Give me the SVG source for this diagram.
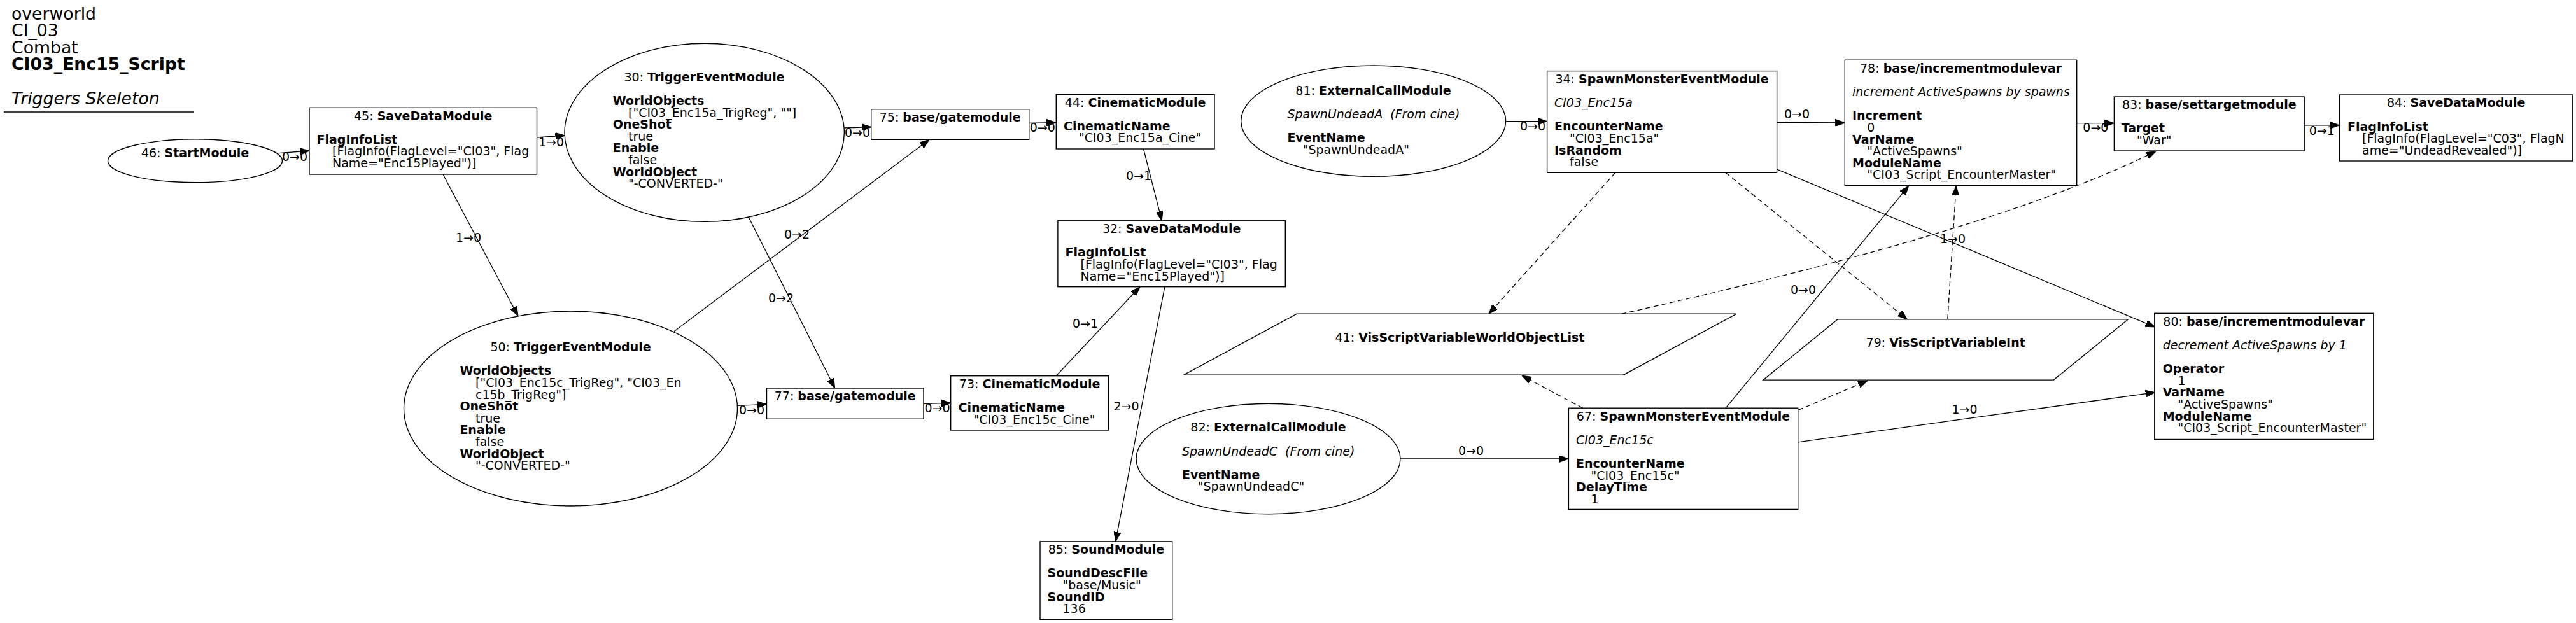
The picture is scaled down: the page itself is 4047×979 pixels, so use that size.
<svg xmlns="http://www.w3.org/2000/svg" width="4047" height="979" viewBox="0 0 4047 979">
<style>
text { font-family: "DejaVu Sans", "Liberation Sans", sans-serif; font-size: 19px; fill: #000; }
.hd { font-size: 26.7px; }
.b { font-weight: bold; }
.i { font-style: italic; }
.m { text-anchor: middle; }
.nd { fill: #fff; stroke: #000; stroke-width: 1.4; }
.e { fill: none; stroke: #000; stroke-width: 1.3; marker-end: url(#ah); }
.d { stroke-dasharray: 8,5; }
</style>
<defs>
<marker id="ah" markerUnits="userSpaceOnUse" markerWidth="15" markerHeight="11" viewBox="0 0 15 11" refX="15" refY="5.5" orient="auto">
<path d="M0,0 L15,5.5 L0,11 z" fill="#000" stroke="#000" stroke-width="1"/>
</marker>
</defs>
<rect x="0" y="0" width="4047" height="979" fill="#fff"/>

<g id="header">
<text class="hd" x="18" y="30.8">overworld</text>
<text class="hd" x="18" y="57.4">CI_03</text>
<text class="hd" x="18" y="83.6">Combat</text>
<text class="hd b" x="18" y="110.3">CI03_Enc15_Script</text>
<text class="hd i" x="18" y="164.2">Triggers Skeleton</text>
<line x1="6" y1="176" x2="304" y2="176" stroke="#000" stroke-width="1.4"/>
</g>

<g id="connectors">
<path class="e" d="M438,240.7 L486,237"/>
<text x="443" y="253">0→0</text>
<path class="e" d="M843.5,216 L887.5,213"/>
<text x="846" y="230">1→0</text>
<path class="e" d="M696,274 L814,496.7"/>
<text x="716" y="380">1→0</text>
<path class="e" d="M1326.5,201 L1368.7,199.5"/>
<text x="1327" y="215">0→0</text>
<path class="e" d="M1176.4,341.7 L1311.7,610"/>
<text x="1207" y="475">0→2</text>
<path class="e" d="M1059,520.7 L1460,219.3"/>
<text x="1232" y="375">0→2</text>
<path class="e" d="M1158.6,637.3 L1204.5,635.3"/>
<text x="1161" y="650.7">0→0</text>
<path class="e" d="M1616.7,193.3 L1659.3,192.7"/>
<text x="1617.7" y="206.7">0→0</text>
<path class="e" d="M1451,634.3 L1493.7,633.3"/>
<text x="1452.5" y="648.3">0→0</text>
<path class="e" d="M1796.5,234 L1825.3,346.8"/>
<text x="1769" y="283">0→1</text>
<path class="e" d="M1659.8,590 L1790.9,450.7"/>
<text x="1685" y="515">0→1</text>
<path class="e" d="M1829.9,450.7 L1752.6,850.9"/>
<text x="1749.5" y="645">2→0</text>
<path class="e" d="M2365.6,190.7 L2430.6,190.7"/>
<text x="2388" y="205">0→0</text>
<path class="e" d="M2791.6,192.5 L2898.3,193"/>
<text x="2803" y="186">0→0</text>
<path class="e d" d="M2537.8,271.3 L2338.8,493.3"/>
<path class="e d" d="M2711,271.3 L2996.4,501.8"/>
<path class="e" d="M2791.6,266 L3385.7,514"/>
<text x="3048" y="382">1→0</text>
<path class="e" d="M3262.7,193.6 L3321.4,193.6"/>
<text x="3272.3" y="207">0→0</text>
<path class="e" d="M3620.2,196.8 L3675.4,196.8"/>
<text x="3627.8" y="211.7">0→1</text>
<path class="e d" d="M2547.3,493.3 C2760,445 3150,355 3387,237.8"/>
<path class="e d" d="M3059.8,501.8 L3073.2,292.1"/>
<path class="e" d="M2200,721 L2464.4,721"/>
<text x="2291" y="715.2">0→0</text>
<path class="e d" d="M2486.7,641.2 L2391,590.2"/>
<path class="e" d="M2711.2,641.2 L2998.7,292.1"/>
<text x="2813" y="461.6">0→0</text>
<path class="e d" d="M2824.7,644.6 L2933.9,598.2"/>
<path class="e" d="M2824.7,694.8 L3385.7,616.6"/>
<text x="3066.5" y="650">1→0</text>
</g>

<g id="n46">
<ellipse class="nd" cx="306.5" cy="252.8" rx="137" ry="34"/>
<text class="m" x="306.5" y="247">46: <tspan class="b">StartModule</tspan></text>
</g>

<g id="n45">
<rect class="nd" x="486" y="169.3" width="357.5" height="104.7"/>
<text class="m" x="664.7" y="188.6">45: <tspan class="b">SaveDataModule</tspan></text>
<text class="b" x="497.5" y="225.8">FlagInfoList</text>
<text x="522" y="244.4">[FlagInfo(FlagLevel="CI03", Flag</text>
<text x="522" y="263">Name="Enc15Played")]</text>
</g>

<g id="n30">
<ellipse class="nd" cx="1106.7" cy="208.3" rx="219.7" ry="140"/>
<text class="m" x="1106.5" y="128.3">30: <tspan class="b">TriggerEventModule</tspan></text>
<text class="b" x="962.8" y="165">WorldObjects</text>
<text x="987" y="183.6">["CI03_Enc15a_TrigReg", ""]</text>
<text class="b" x="962.8" y="202.2">OneShot</text>
<text x="987" y="220.8">true</text>
<text class="b" x="962.8" y="239.4">Enable</text>
<text x="987" y="258">false</text>
<text class="b" x="962.8" y="276.6">WorldObject</text>
<text x="987" y="295.2">"-CONVERTED-"</text>
</g>

<g id="n75">
<rect class="nd" x="1368.7" y="171.7" width="248" height="47.6"/>
<text class="m" x="1492.7" y="191">75: <tspan class="b">base/gatemodule</tspan></text>
</g>

<g id="n44">
<rect class="nd" x="1659.3" y="148.3" width="248.7" height="85.7"/>
<text class="m" x="1783.6" y="167.6">44: <tspan class="b">CinematicModule</tspan></text>
<text class="b" x="1671" y="204.8">CinematicName</text>
<text x="1695" y="223.4">"CI03_Enc15a_Cine"</text>
</g>

<g id="n32">
<rect class="nd" x="1661.9" y="346.8" width="357.4" height="103.9"/>
<text class="m" x="1840.6" y="366.1">32: <tspan class="b">SaveDataModule</tspan></text>
<text class="b" x="1673.5" y="403.3">FlagInfoList</text>
<text x="1697.5" y="421.9">[FlagInfo(FlagLevel="CI03", Flag</text>
<text x="1697.5" y="440.5">Name="Enc15Played")]</text>
</g>

<g id="n50">
<ellipse class="nd" cx="896.5" cy="642" rx="262" ry="153"/>
<text class="m" x="896.5" y="551.7">50: <tspan class="b">TriggerEventModule</tspan></text>
<text class="b" x="722.4" y="589.3">WorldObjects</text>
<text x="747" y="607.9">["CI03_Enc15c_TrigReg", "CI03_En</text>
<text x="747" y="626.5">c15b_TrigReg"]</text>
<text class="b" x="722.4" y="645.1">OneShot</text>
<text x="747" y="663.7">true</text>
<text class="b" x="722.4" y="682.3">Enable</text>
<text x="747" y="700.9">false</text>
<text class="b" x="722.4" y="719.5">WorldObject</text>
<text x="747" y="738.1">"-CONVERTED-"</text>
</g>

<g id="n77">
<rect class="nd" x="1204.5" y="610" width="246.5" height="48.3"/>
<text class="m" x="1327.7" y="629.3">77: <tspan class="b">base/gatemodule</tspan></text>
</g>

<g id="n73">
<rect class="nd" x="1493.7" y="590.7" width="247.9" height="85.3"/>
<text class="m" x="1617.6" y="610">73: <tspan class="b">CinematicModule</tspan></text>
<text class="b" x="1505.5" y="647.2">CinematicName</text>
<text x="1529.6" y="665.8">"CI03_Enc15c_Cine"</text>
</g>

<g id="n85">
<rect class="nd" x="1634" y="850.9" width="207.7" height="122.6"/>
<text class="m" x="1737.9" y="870.2">85: <tspan class="b">SoundModule</tspan></text>
<text class="b" x="1645.6" y="907.4">SoundDescFile</text>
<text x="1669.5" y="926">"base/Music"</text>
<text class="b" x="1645.6" y="944.6">SoundID</text>
<text x="1669.5" y="963.2">136</text>
</g>

<g id="n81">
<ellipse class="nd" cx="2157.7" cy="190.2" rx="208" ry="87.2"/>
<text class="m" x="2157.5" y="149">81: <tspan class="b">ExternalCallModule</tspan></text>
<text class="i" x="2022.4" y="186.2" xml:space="preserve">SpawnUndeadA  (From cine)</text>
<text class="b" x="2022.4" y="223.4">EventName</text>
<text x="2046.7" y="242">"SpawnUndeadA"</text>
</g>

<g id="n34">
<rect class="nd" x="2430.6" y="111.6" width="361" height="159.7"/>
<text class="m" x="2611.1" y="131">34: <tspan class="b">SpawnMonsterEventModule</tspan></text>
<text class="i" x="2442" y="168.2">CI03_Enc15a</text>
<text class="b" x="2442" y="205.4">EncounterName</text>
<text x="2466" y="224">"CI03_Enc15a"</text>
<text class="b" x="2442" y="242.6">IsRandom</text>
<text x="2466" y="261.2">false</text>
</g>

<g id="n78">
<rect class="nd" x="2898.3" y="94.3" width="364.4" height="197.4"/>
<text class="m" x="3080.5" y="114">78: <tspan class="b">base/incrementmodulevar</tspan></text>
<text class="i" x="2910" y="151.2">increment ActiveSpawns by spawns</text>
<text class="b" x="2910" y="188.4">Increment</text>
<text x="2933.3" y="207">0</text>
<text class="b" x="2910" y="225.6">VarName</text>
<text x="2933.3" y="244.2">"ActiveSpawns"</text>
<text class="b" x="2910" y="262.8">ModuleName</text>
<text x="2933.3" y="281.4">"CI03_Script_EncounterMaster"</text>
</g>

<g id="n83">
<rect class="nd" x="3321.4" y="152" width="298.8" height="85"/>
<text class="m" x="3470.8" y="171.3">83: <tspan class="b">base/settargetmodule</tspan></text>
<text class="b" x="3332.7" y="208">Target</text>
<text x="3357" y="226.6">"War"</text>
</g>

<g id="n84">
<rect class="nd" x="3675.4" y="149" width="366.4" height="104"/>
<text class="m" x="3858.6" y="168.3">84: <tspan class="b">SaveDataModule</tspan></text>
<text class="b" x="3688" y="205.5">FlagInfoList</text>
<text x="3711" y="224.1">[FlagInfo(FlagLevel="C03", FlagN</text>
<text x="3711" y="242.7">ame="UndeadRevealed")]</text>
</g>

<g id="n41">
<polygon class="nd" points="2037,493.3 2727.8,493.3 2550.5,589.2 1859.7,589.2"/>
<text class="m" x="2293.5" y="536.6">41: <tspan class="b">VisScriptVariableWorldObjectList</tspan></text>
</g>

<g id="n79">
<polygon class="nd" points="2887,501.8 3343.3,501.8 3226.3,597.1 2770,597.1"/>
<text class="m" x="3056.7" y="544.6">79: <tspan class="b">VisScriptVariableInt</tspan></text>
</g>

<g id="n82">
<ellipse class="nd" cx="1992.5" cy="721" rx="207.5" ry="86.7"/>
<text class="m" x="1992.5" y="678.3">82: <tspan class="b">ExternalCallModule</tspan></text>
<text class="i" x="1857" y="715.5" xml:space="preserve">SpawnUndeadC  (From cine)</text>
<text class="b" x="1857" y="752.8">EventName</text>
<text x="1881.7" y="771.4">"SpawnUndeadC"</text>
</g>

<g id="n67">
<rect class="nd" x="2464.4" y="641.2" width="360.3" height="159.2"/>
<text class="m" x="2644.5" y="660.6">67: <tspan class="b">SpawnMonsterEventModule</tspan></text>
<text class="i" x="2476" y="697.8">CI03_Enc15c</text>
<text class="b" x="2476" y="735">EncounterName</text>
<text x="2499.5" y="753.6">"CI03_Enc15c"</text>
<text class="b" x="2476" y="772.2">DelayTime</text>
<text x="2499.5" y="790.8">1</text>
</g>

<g id="n80">
<rect class="nd" x="3384.8" y="492.3" width="344" height="198.2"/>
<text class="m" x="3556.8" y="511.8">80: <tspan class="b">base/incrementmodulevar</tspan></text>
<text class="i" x="3397.7" y="549">decrement ActiveSpawns by 1</text>
<text class="b" x="3397.7" y="586.2">Operator</text>
<text x="3421.5" y="604.8">1</text>
<text class="b" x="3397.7" y="623.4">VarName</text>
<text x="3421.5" y="642">"ActiveSpawns"</text>
<text class="b" x="3397.7" y="660.6">ModuleName</text>
<text x="3421.5" y="679.2">"CI03_Script_EncounterMaster"</text>
</g>
</svg>
